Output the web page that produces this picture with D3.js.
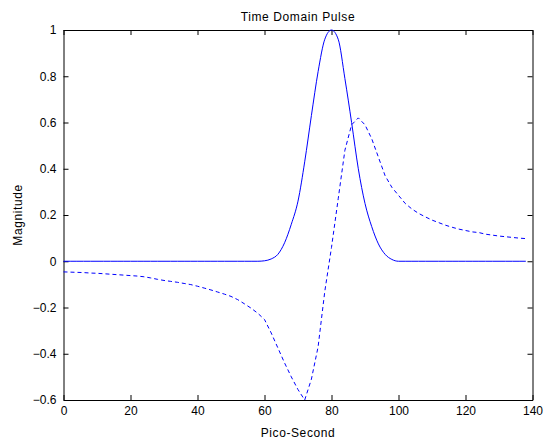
<!DOCTYPE html>
<html>
<head>
<meta charset="utf-8">
<script src="https://cdn.jsdelivr.net/npm/d3@7"></script>
<style>
  body { margin: 0; background: #ffffff; }
  text { font-family: "Liberation Sans", Arial, sans-serif; fill: #000000; }
</style>
</head>
<body>
<script>
// time axis in pico-seconds, sampled every 2 ps
var timePs = [0, 2, 4, 6, 8, 10, 12, 14, 16, 18, 20, 22, 24, 26, 28, 30, 32, 34, 36, 38,
              40, 42, 44, 46, 48, 50, 52, 54, 56, 58, 60, 62, 64, 66, 68, 70, 72, 74, 76, 78,
              80, 82, 84, 86, 88, 90, 92, 94, 96, 98, 100, 102, 104, 106, 108, 110, 112, 114, 116, 118,
              120, 122, 124, 126, 128, 130, 132, 134, 136, 138]

// solid line: the input pulse
var inputPulse = [0, 0, 0, 0, 0, 0, 0, 0, 0, 0, 0, 0, 0, 0, 0, 0, 0, 0, 0, 0,
                  0, 0, 0, 0, 0, 0, 0, 0, 0, 0, 0.002, 0.01, 0.03, 0.08, 0.16, 0.26, 0.43, 0.63, 0.82, 0.96,
                  1.0, 0.96, 0.79, 0.60, 0.40, 0.25, 0.15, 0.075, 0.03, 0.008, 0, 0, 0, 0, 0, 0, 0, 0, 0, 0,
                  0, 0, 0, 0, 0, 0, 0, 0, 0, 0]

// dashed line: the distorted pulse
var outputPulse = [-0.046, -0.047, -0.048, -0.049, -0.051, -0.052, -0.054, -0.056, -0.058, -0.060,
                   -0.062, -0.064, -0.067, -0.072, -0.078, -0.083, -0.087, -0.091, -0.096, -0.101,
                   -0.108, -0.116, -0.124, -0.133, -0.142, -0.152, -0.166, -0.184, -0.203, -0.225,
                   -0.252, -0.31, -0.375, -0.44, -0.50, -0.555, -0.60, -0.51, -0.37, -0.13,
                   0.06, 0.27, 0.48, 0.59, 0.62, 0.59, 0.53, 0.45, 0.37, 0.32,
                   0.285, 0.25, 0.226, 0.207, 0.192, 0.178, 0.167, 0.156, 0.147, 0.139,
                   0.133, 0.127, 0.124, 0.117, 0.113, 0.109, 0.106, 0.103, 0.100, 0.098]

var xTicks = [0, 20, 40, 60, 80, 100, 120, 140]
var yTicks = [-0.6, -0.4, -0.2, 0, 0.2, 0.4, 0.6, 0.8, 1]

window.onload = function() {
  var width = 546
  var height = 444

  var pad = {
    top: 30,
    bottom: 44,
    left: 63.5,
    right: 13.5
  };

  var svg = d3.select("body")
              .append("svg")
              .attr("width", width)
              .attr("height", height)

  svg.append("rect")
     .attr("width", width)
     .attr("height", height)
     .attr("fill", "#ffffff");

  var xScale = d3.scaleLinear()
                 .domain([0, 140])
                 .range([pad.left, width - pad.right]);
  var yScale = d3.scaleLinear()
                 .domain([-0.6, 1])
                 .range([height - pad.bottom, pad.top]);

  var fmtY = function(d) { return d3.format("")(+d.toFixed(1)) }

  // matlab style: ticks point inwards on every side
  var xAxis = d3.axisBottom(xScale).tickValues(xTicks)
                .tickSizeInner(-5).tickSizeOuter(0).tickPadding(6)
                .tickFormat(d3.format("d"));
  var xAxisTop = d3.axisTop(xScale).tickValues(xTicks)
                .tickSizeInner(-5).tickSizeOuter(0).tickFormat("");
  var yAxis = d3.axisLeft(yScale).tickValues(yTicks)
                .tickSizeInner(-5).tickSizeOuter(0).tickPadding(7)
                .tickFormat(fmtY);
  var yAxisRight = d3.axisRight(yScale).tickValues(yTicks)
                .tickSizeInner(-5).tickSizeOuter(0).tickFormat("");

  var axes = [
    [xAxis, "translate(0," + (height - pad.bottom) + ")"],
    [xAxisTop, "translate(0," + pad.top + ")"],
    [yAxis, "translate(" + pad.left + ",0)"],
    [yAxisRight, "translate(" + (width - pad.right) + ",0)"]
  ]
  for (let a of axes) {
    var g = svg.append("g")
               .attr("transform", a[1])
               .call(a[0]);
    g.selectAll("path, line").attr("stroke", "#000000");
    g.selectAll("text")
     .style("font-family", "'Liberation Sans', Arial, sans-serif")
     .style("font-size", "12px");
  }

  // the pulse itself is drawn smooth, the distorted one keeps its corners
  var smoothLine = d3.line()
               .curve(d3.curveMonotoneX)
               .x(function(d) { return xScale(d[0]); })
               .y(function(d) { return yScale(d[1]); });
  var line = d3.line()
               .x(function(d) { return xScale(d[0]); })
               .y(function(d) { return yScale(d[1]); });

  var solidData = timePs.map(function(t, i) { return [t, inputPulse[i]]; })
  var dashedData = timePs.map(function(t, i) { return [t, outputPulse[i]]; })

  svg.append("path")
     .datum(solidData)
     .attr("d", smoothLine)
     .attr("fill", "none")
     .attr("stroke", "#0000ff")
     .attr("stroke-width", 1);

  svg.append("path")
     .datum(dashedData)
     .attr("d", line)
     .attr("fill", "none")
     .attr("stroke", "#0000ff")
     .attr("stroke-width", 1)
     .attr("stroke-dasharray", "4,3");

  var midX = (pad.left + width - pad.right) / 2
  var midY = (pad.top + height - pad.bottom) / 2

  // title
  svg.append("text")
     .attr("x", midX)
     .attr("y", 21)
     .style("text-anchor", "middle")
     .style("font-size", "12px")
     .style("letter-spacing", "0.6px")
     .text("Time Domain Pulse");
  // x label
  svg.append("text")
     .attr("x", midX)
     .attr("y", 437)
     .style("text-anchor", "middle")
     .style("font-size", "12px")
     .style("letter-spacing", "0.6px")
     .text("Pico-Second");
  // y label
  svg.append("text")
     .attr("transform", "translate(22," + midY + ") rotate(-90)")
     .style("text-anchor", "middle")
     .style("font-size", "12px")
     .style("letter-spacing", "0.6px")
     .text("Magnitude");
};
</script>
</body>
</html>
